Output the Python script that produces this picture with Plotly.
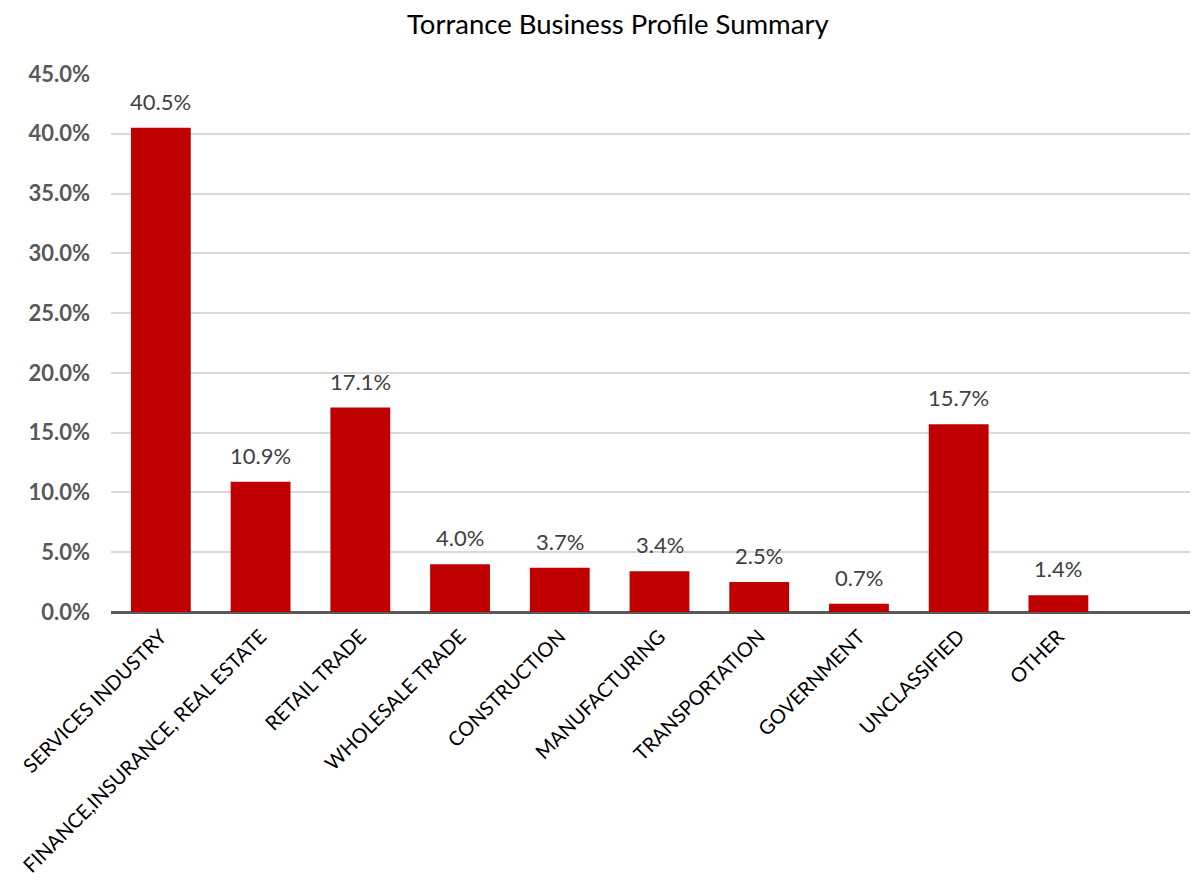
import plotly.graph_objects as go

categories = ["SERVICES INDUSTRY", "FINANCE,INSURANCE, REAL ESTATE", "RETAIL TRADE",
              "WHOLESALE TRADE", "CONSTRUCTION", "MANUFACTURING", "TRANSPORTATION",
              "GOVERNMENT", "UNCLASSIFIED", "OTHER"]
values = [40.5, 10.9, 17.1, 4.0, 3.7, 3.4, 2.5, 0.7, 15.7, 1.4]
tick_vals = [0, 5, 10, 15, 20, 25, 30, 35, 40, 45]
tick_text = [f"{v:.1f}%" for v in tick_vals]

font_family = "Lato, Open Sans, sans-serif"

fig = go.Figure(go.Bar(
    x=categories, y=values, marker_color="#C00000", marker_line_width=0,
    hoverinfo="skip",
))

for c, v in zip(categories, values):
    fig.add_annotation(x=c, y=v, text=f"{v:.1f}%", showarrow=False,
                       yanchor="bottom", yshift=11,
                       font=dict(family=font_family, size=22, color="#404040"))

fig.update_layout(
    width=1198, height=884,
    margin=dict(l=103, r=0, t=66, b=280, autoexpand=False),
    paper_bgcolor="white", plot_bgcolor="white",
    bargap=0.4,
    showlegend=False,
    title=dict(text="Torrance Business Profile Summary", x=0.509, xanchor="center",
               y=0.982, yanchor="middle",
               font=dict(family=font_family, size=27.5, color="#000000")),
    xaxis=dict(range=[-0.5, 10.48], tickangle=-45, showgrid=False, automargin=False,
               tickfont=dict(family=font_family, size=20, color="#000000"),
               ticklabelstandoff=8,
               showline=False, zeroline=False, ticks=""),
    yaxis=dict(range=[0, 45], tickvals=tick_vals, ticktext=tick_text, automargin=False,
               showgrid=True, gridcolor="#D9D9D9", gridwidth=2,
               zeroline=True, zerolinecolor="#595959", zerolinewidth=3,
               ticklabelstandoff=20,
               tickfont=dict(family=font_family, size=22, color="#595959", weight="bold")),
)

fig.write_html("out.html")
